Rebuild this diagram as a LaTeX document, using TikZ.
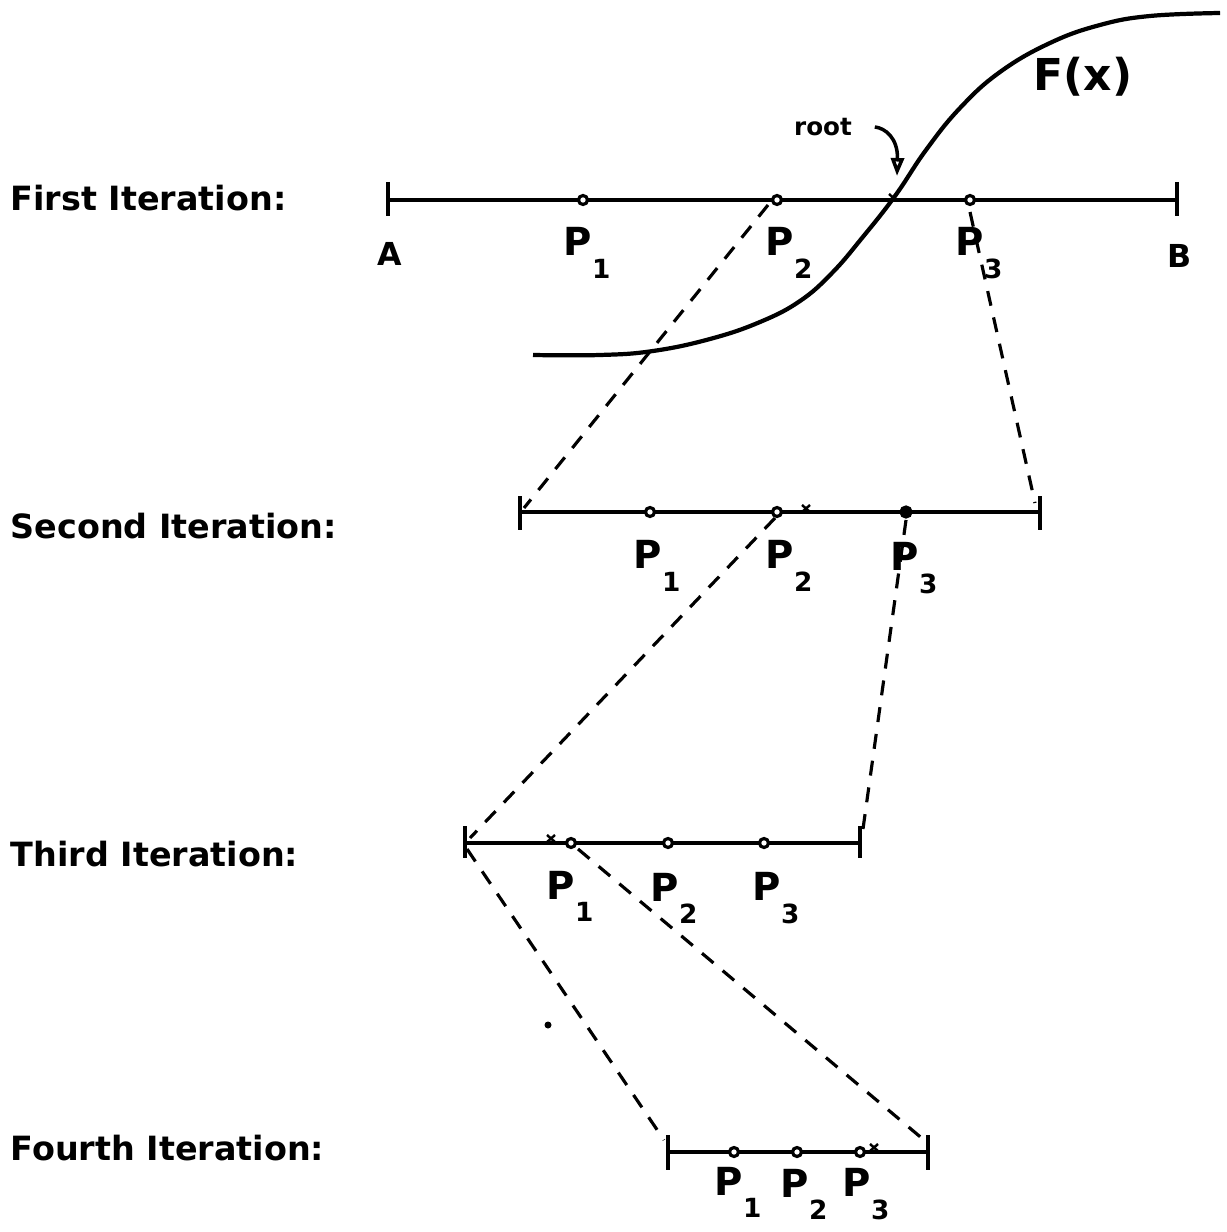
\documentclass[tikz,border=0pt]{standalone}
\usepackage{fontspec}
\setmainfont{DejaVu Sans}
\usetikzlibrary{arrows.meta}
\newcommand{\Psub}[1]{P\raisebox{-1.05ex}{\fontsize{7.5}{7.5}\selectfont #1}}
\begin{document}
\begin{tikzpicture}[x=0.1mm,y=-0.1mm,
  axisline/.style={line width=1pt},
  endtick/.style={line width=1pt},
  pt/.style={circle,draw,line width=0.9pt,fill=white,inner sep=0pt,minimum size=0.9mm},
  ptfill/.style={circle,draw,line width=0.9pt,fill=black,inner sep=0pt,minimum size=1mm},
  plabel/.style={font=\fontsize{11}{11}\selectfont\bfseries,inner sep=0pt},
  itlabel/.style={font=\fontsize{9.5}{12}\selectfont\bfseries,anchor=west,inner sep=0pt},
  link/.style={line width=0.9pt,dash pattern=on 1.5mm off 1.2mm},
  xm/.pic={\draw[line width=0.7pt] (-4,-3)--(4,4) (4,-3)--(-4,4);}
]
\useasboundingbox (0,0) rectangle (1227,1232);

% iteration labels
\node[itlabel] (it1) at (10,198) {First Iteration:};
\node[itlabel] (it2) at (10,526) {Second Iteration:};
\node[itlabel] (it3) at (10,854) {Third Iteration:};
\node[itlabel] (it4) at (10,1148) {Fourth Iteration:};

% ---------- First iteration ----------
\coordinate (a1) at (388,200);
\coordinate (b1) at (1177,200);
\draw[axisline] (a1) -- (b1);
\draw[endtick] (388,182) -- (388,216) (1177,182) -- (1177,216);
\node[pt] (p11) at (583,200) {};
\node[pt] (p12) at (777,200) {};
\node[pt] (p13) at (970,200) {};
\node[font=\fontsize{9}{9}\selectfont\bfseries] (A) at (390,254) {A};
\node[font=\fontsize{9}{9}\selectfont\bfseries] (B) at (1180,256) {B};
\node[plabel] (l11) at (587,253) {\Psub{1}};
\node[plabel] (l12) at (789,253) {\Psub{2}};
\node[plabel] (l13) at (979,253) {\Psub{3}};

% curve F(x)
\draw[line width=1.2pt] plot[smooth,tension=0.7] coordinates {
  (533,355) (600,355) (653,351) (710,339) (760,322) (800,301) (832,273)
  (862,238) (895,196) (926,150) (960,108) (1000,72) (1050,43) (1100,25)
  (1150,16) (1220,13)};
\node[font=\fontsize{12.5}{12.5}\selectfont\bfseries] (Fx) at (1083,77) {F(x)};
\node[font=\fontsize{7}{7}\selectfont\bfseries] (root) at (823,127) {root};
\coordinate (rootpt) at (897,176);
\draw[line width=1pt,-{Triangle[open,length=1.8mm,width=1.3mm]}] ([xshift=3pt]root.east) .. controls (885,128) and (898,138) .. (rootpt);
\pic at (893,197) {xm};

% ---------- Second iteration ----------
\coordinate (a2) at (520,512);
\coordinate (b2) at (1040,512);
\draw[axisline] (a2) -- (b2);
\draw[endtick] (520,496) -- (520,530) (1040,496) -- (1040,530);
\node[pt] (p21) at (650,512) {};
\node[pt] (p22) at (777,512) {};
\node[ptfill] (p23) at (906,512) {};
\pic at (806,508) {xm};
\node[plabel] (l21) at (657,566) {\Psub{1}};
\node[plabel] (l22) at (789,566) {\Psub{2}};
\node[plabel] (l23) at (914,568) {\Psub{3}};

% ---------- Third iteration ----------
\coordinate (a3) at (465,843);
\coordinate (b3) at (860,843);
\draw[axisline] (a3) -- (b3);
\draw[endtick] (465,826) -- (465,858) (860,826) -- (860,858);
\node[pt] (p31) at (571,843) {};
\node[pt] (p32) at (668,843) {};
\node[pt] (p33) at (764,843) {};
\pic at (551,838) {xm};
\node[plabel] (l31) at (570,896) {\Psub{1}};
\node[plabel] (l32) at (674,898) {\Psub{2}};
\node[plabel] (l33) at (776,898) {\Psub{3}};

% ---------- Fourth iteration ----------
\coordinate (a4) at (668,1152);
\coordinate (b4) at (928,1152);
\draw[axisline] (a4) -- (b4);
\draw[endtick] (668,1135) -- (668,1170) (928,1135) -- (928,1170);
\node[pt] (p41) at (734,1152) {};
\node[pt] (p42) at (797,1152) {};
\node[pt] (p43) at (860,1152) {};
\pic at (874,1147) {xm};
\node[plabel] (l41) at (738,1192) {\Psub{1}};
\node[plabel] (l42) at (804,1194) {\Psub{2}};
\node[plabel] (l43) at (866,1194) {\Psub{3}};

% stray dot
\node[circle,fill=black,inner sep=0pt,minimum size=0.7mm] (dot) at (548,1025) {};

% ---------- dashed links ----------
\coordinate (s1) at (768,205);  \coordinate (e1) at (524,508);
\coordinate (s2) at (970,212);  \coordinate (e2) at (1035,503);
\coordinate (s3) at (775,518);  \coordinate (e3) at (470,838);
\coordinate (s4) at (906,520);  \coordinate (e4) at (862,836);
\coordinate (s5) at (467,849);  \coordinate (e5) at (664,1140);
\coordinate (s6) at (578,849);  \coordinate (e6) at (924,1140);
\draw[link] (s1) -- (e1);
\draw[link] (s2) -- (e2);
\draw[link] (s3) -- (e3);
\draw[link] (s4) -- (e4);
\draw[link] (s5) -- (e5);
\draw[link] (s6) -- (e6);
\end{tikzpicture}
\end{document}
